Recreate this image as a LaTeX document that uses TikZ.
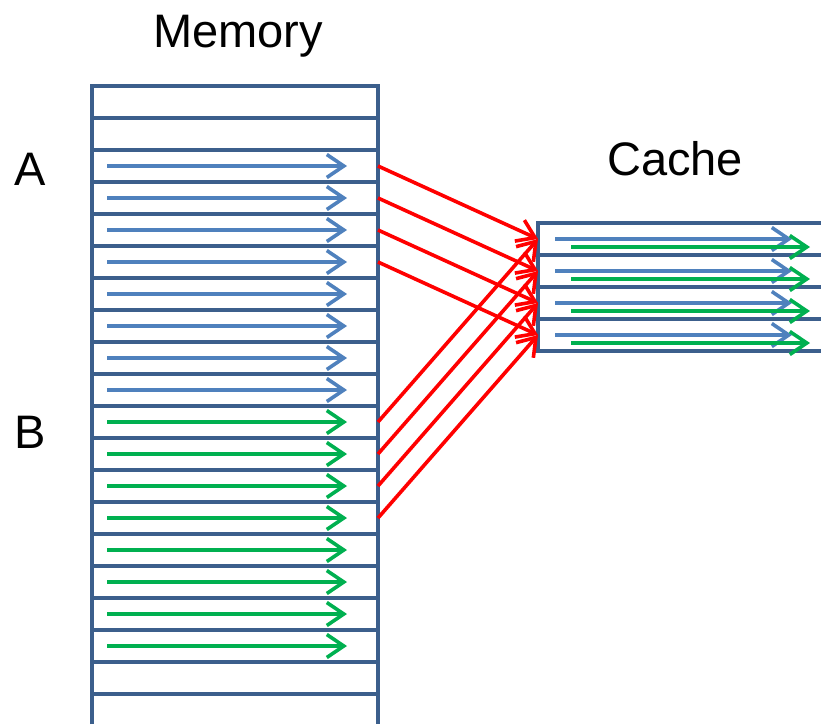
\documentclass[tikz,border=0pt]{standalone}
\usepackage{fontspec}
\setmainfont{Liberation Sans}
\usetikzlibrary{arrows.meta}
\definecolor{frame}{RGB}{60,95,140}
\definecolor{bluearr}{RGB}{79,129,189}
\definecolor{greenarr}{RGB}{0,176,80}
\begin{document}
\begin{tikzpicture}[x=1pt,y=-1pt,
  framestyle/.style={draw=frame,line width=4pt},
  rowarrow/.style={line width=3.6pt,-{Straight Barb[length=17pt,width=23pt,line width=3.6pt]}},
  redarrow/.style={draw=red,line width=3.6pt,-{Straight Barb[length=17pt,width=23pt,line width=3.6pt]}},
  lbl/.style={font=\fontsize{47}{50}\selectfont,anchor=base,inner sep=0pt}]
\useasboundingbox (0,0) rectangle (821,724);
% labels
\node[lbl] (memlbl) at (238,47) {Memory};
\node[lbl] (cachelbl) at (675,175) {Cache};
\node[lbl] (albl) at (30,185) {A};
\node[lbl] (blbl) at (30,448) {B};
% memory frame
\draw[framestyle] (92,724) -- (92,86) -- (378,86) -- (378,724);
\foreach \k in {1,...,19}{
  \draw[framestyle] (92,86+32*\k) -- (378,86+32*\k);
}
% memory row arrows
\foreach \k in {2,...,9}{
  \draw[rowarrow,draw=bluearr] (107,86+32*\k+16) -- (347,86+32*\k+16);
}
\foreach \k in {10,...,17}{
  \draw[rowarrow,draw=greenarr] (107,86+32*\k+16) -- (347,86+32*\k+16);
}
% cache frame
\draw[framestyle] (821,223) -- (538,223) -- (538,351) -- (821,351);
\foreach \k in {1,2,3}{
  \draw[framestyle] (538,223+32*\k) -- (821,223+32*\k);
}
% cache arrows
\foreach \k in {0,...,3}{
  \draw[rowarrow,draw=bluearr] (555,239+32*\k) -- (792,239+32*\k);
  \draw[rowarrow,draw=greenarr] (571,247+32*\k) -- (810,247+32*\k);
}
% connection coordinates
\foreach \k in {0,...,3}{
  \coordinate (a\k) at (378,166+32*\k);
  \coordinate (b\k) at (378,422+32*\k);
  \coordinate (c\k) at (538,239+32*\k);
}
\foreach \k in {0,...,3}{
  \draw[redarrow] (a\k) -- (c\k);
  \draw[redarrow] (b\k) -- (c\k);
}
\end{tikzpicture}
\end{document}
